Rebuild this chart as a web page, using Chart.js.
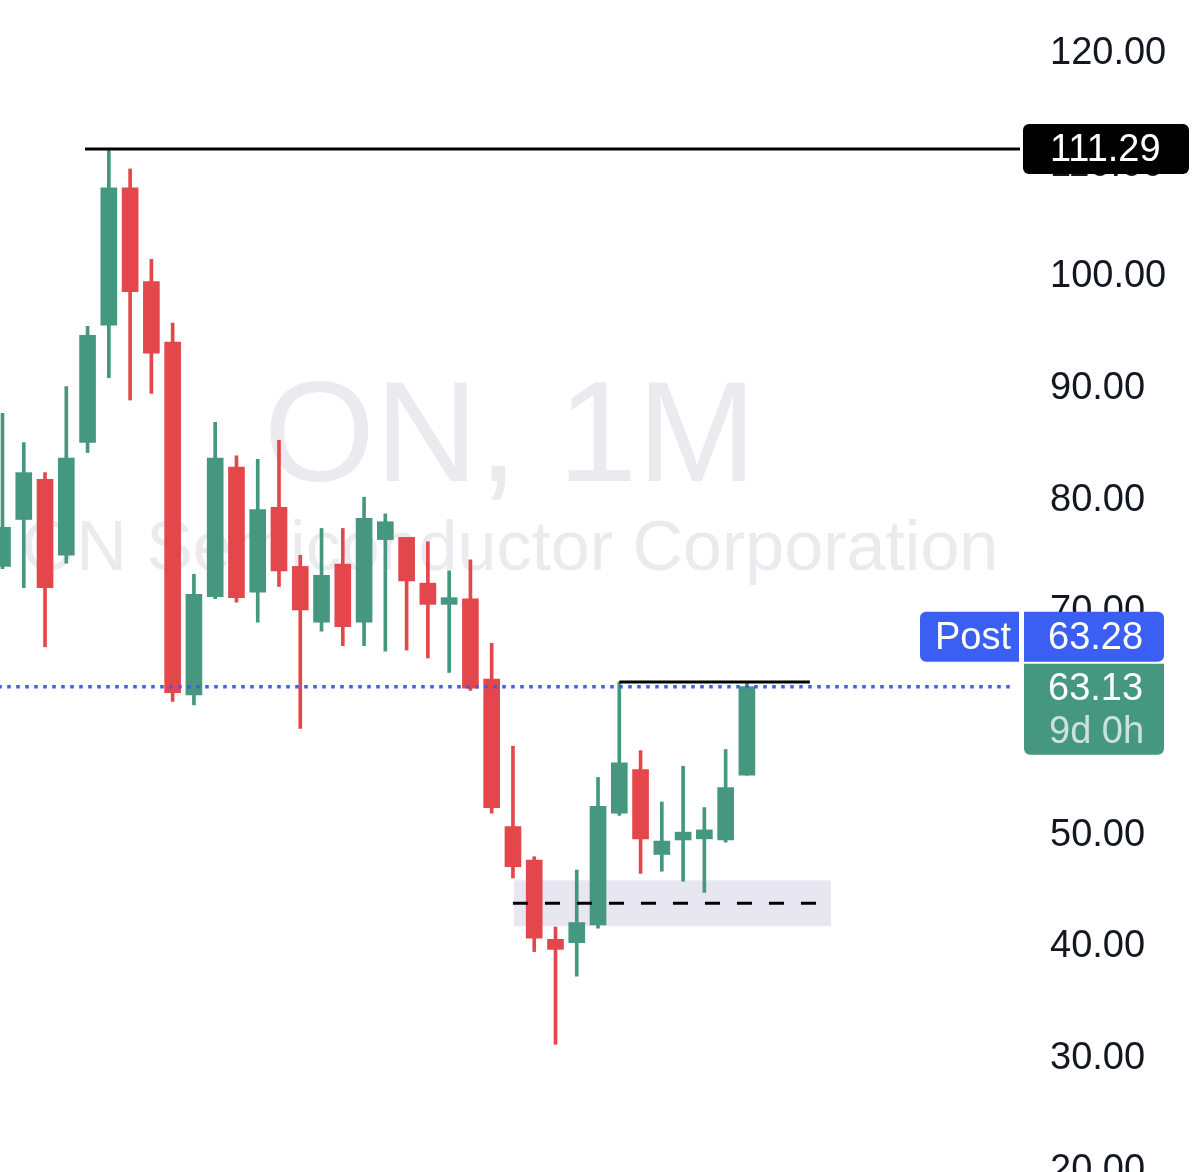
<!DOCTYPE html>
<html>
<head>
<meta charset="utf-8">
<script src="https://cdn.jsdelivr.net/npm/chart.js@4.4.1/dist/chart.umd.min.js"></script>
<style>
  html, body { margin: 0; padding: 0; background: #fff; }
  #chart { display: block; }
</style>
</head>
<body>
<canvas id="chart" width="1200" height="1172"></canvas>
<script>
// Monthly candles, ON Semiconductor
const opens  = [73.9, 78.1, 81.7, 74.9, 85.0, 95.5, 107.8, 99.4, 94.0, 62.4,
                71.2, 82.8, 71.6, 79.2, 73.9, 68.9, 74.1, 68.9, 76.3, 76.5,
                72.4, 70.5, 71.0, 63.8, 50.6, 47.6, 40.5, 40.2, 41.8, 51.8,
                55.7, 48.1, 49.4, 49.5, 49.4, 55.2];
const highs  = [87.6, 85.0, 82.3, 90.0, 95.4, 111.29, 109.5, 101.4, 95.7, 73.2,
                86.8, 83.8, 83.5, 85.2, 74.9, 77.3, 77.3, 80.1, 78.6, 76.5,
                76.1, 73.5, 74.5, 67.0, 57.8, 47.9, 41.6, 46.7, 55.0, 63.54,
                57.4, 52.8, 56.0, 52.3, 57.5, 63.6];
const lows   = [73.7, 72.0, 66.7, 74.2, 84.1, 90.8, 88.8, 89.4, 61.8, 61.5,
                71.0, 70.7, 68.9, 72.1, 59.4, 68.1, 66.8, 66.8, 66.3, 66.4,
                65.7, 64.4, 62.8, 51.8, 46.0, 39.4, 31.1, 37.2, 41.5, 51.6,
                46.4, 46.6, 45.7, 44.7, 49.2, 55.2];
const closes = [77.4, 82.3, 72.0, 83.6, 94.6, 107.8, 98.5, 93.0, 62.6, 71.4,
                83.6, 71.1, 79.0, 73.5, 70.0, 73.1, 68.5, 78.2, 77.9, 72.6,
                70.5, 71.1, 63.0, 52.3, 47.0, 40.6, 39.6, 42.0, 52.4, 56.3,
                49.5, 49.3, 50.1, 50.3, 54.1, 63.13];

const priceTicks = [20, 30, 40, 50, 60, 70, 80, 90, 100, 110, 120];

// Drawn levels: [fromIndex, toIndex, price]
const peakLine = [3.88, 47.84, 111.29];
const resistanceLine = [29, 37.96, 63.54];
const supportLine = [24, 38.6, 43.72];
const lastLine = [-0.2, 47.6, 63.13];
const zone = [24.05, 38.95, 41.67, 45.78]; // fromIndex, toIndex, low, high

const postPrice = 63.28;
const countdown = '9d 0h';
const watermark = 'ON, 1M';
const companyName = 'ON Semiconductor Corporation';

const UP = '#45987f';
const DOWN = '#e3474c';
const BLUE = '#3b5ff2';
const FONT = '"Liberation Sans", Arial, sans-serif';

const candleColors = opens.map((o, i) => closes[i] >= o ? UP : DOWN);
const bodies = opens.map((o, i) => ({ x: i, y: [o, closes[i]] }));
const wicks = opens.map((o, i) => ({ x: i, y: [lows[i], highs[i]] }));

function hLine(line) {
    return [{ x: line[0], y: line[2] }, { x: line[1], y: line[2] }];
}

function lineSet(line, color, dash, width) {
    return {
        type: 'line',
        data: hLine(line),
        borderColor: color,
        borderWidth: width || 3,
        borderDash: dash || [],
        borderCapStyle: 'butt',
        pointRadius: 0,
        order: 1
    };
}

// Watermark + highlighted zone under the candles
const backdrop = {
    id: 'backdrop',
    beforeDatasetsDraw(chart) {
        const { ctx, chartArea, scales: { x, y } } = chart;
        const cx = (chartArea.left + chartArea.right) / 2;
        ctx.save();
        ctx.fillStyle = '#ebebef';
        ctx.textAlign = 'center';
        ctx.textBaseline = 'alphabetic';
        ctx.font = `143px ${FONT}`;
        ctx.fillText(watermark, cx, 481);
        ctx.font = `70px ${FONT}`;
        ctx.fillText(companyName, cx, 570);

        const x0 = x.getPixelForValue(zone[0]);
        const x1 = x.getPixelForValue(zone[1]);
        const y0 = y.getPixelForValue(zone[3]);
        const y1 = y.getPixelForValue(zone[2]);
        ctx.fillStyle = '#e8e6f1';
        ctx.fillRect(x0, y0, x1 - x0, y1 - y0);
        ctx.restore();
    }
};

// Price tags on the axis
const priceTags = {
    id: 'priceTags',
    afterDraw(chart) {
        const { ctx, scales: { y } } = chart;
        ctx.save();
        ctx.font = `38px ${FONT}`;
        ctx.textBaseline = 'middle';
        ctx.textAlign = 'left';

        const py = y.getPixelForValue(peakLine[2]);
        ctx.fillStyle = '#000';
        ctx.beginPath();
        ctx.roundRect(1023, py - 25, 166, 50, 6);
        ctx.fill();
        ctx.fillStyle = '#fff';
        ctx.fillText(peakLine[2].toFixed(2), 1050, py + 2);

        const cy = y.getPixelForValue(lastLine[2]);
        const gTop = cy - 23;
        ctx.fillStyle = UP;
        ctx.beginPath();
        ctx.roundRect(1024, gTop, 140, 91, [0, 0, 6, 6]);
        ctx.fill();
        ctx.fillStyle = '#fff';
        ctx.fillText(lastLine[2].toFixed(2), 1048, cy + 3);
        ctx.fillStyle = 'rgba(255,255,255,0.72)';
        ctx.fillText(countdown, 1049, cy + 46);

        const pTop = gTop - 52;
        ctx.fillStyle = BLUE;
        ctx.beginPath();
        ctx.roundRect(920, pTop, 99, 50, [6, 0, 0, 6]);
        ctx.fill();
        ctx.beginPath();
        ctx.roundRect(1024, pTop, 140, 50, [0, 6, 6, 0]);
        ctx.fill();
        ctx.fillStyle = '#fff';
        ctx.fillText('Post', 935, pTop + 27);
        ctx.fillText(postPrice.toFixed(2), 1048, pTop + 27);
        ctx.restore();
    }
};

new Chart(document.getElementById('chart'), {
    type: 'bar',
    data: {
        datasets: [
            lineSet(peakLine, '#000'),
            lineSet(resistanceLine, '#000'),
            lineSet(supportLine, '#000', [15, 17]),
            lineSet(lastLine, BLUE, [3.5, 5.5], 3.5),
            {
                data: bodies,
                backgroundColor: candleColors,
                barThickness: 16,
                grouped: false,
                order: 2
            },
            {
                data: wicks,
                backgroundColor: candleColors,
                barThickness: 3,
                grouped: false,
                order: 3
            }
        ]
    },
    options: {
        responsive: false,
        devicePixelRatio: 1,
        animation: false,
        layout: { padding: 0 },
        plugins: {
            legend: { display: false },
            tooltip: { enabled: false }
        },
        scales: {
            x: {
                type: 'linear',
                display: false,
                offset: false,
                min: -0.1175,
                max: 47.84
            },
            y: {
                position: 'right',
                min: 19.66,
                max: 124.63,
                grid: { display: false, drawTicks: false },
                border: { display: false },
                afterBuildTicks: (scale) => {
                    scale.ticks = priceTicks.map(v => ({ value: v }));
                },
                afterFit: (scale) => {
                    scale.width = 180;
                    scale.paddingTop = 0;
                    scale.paddingBottom = 0;
                },
                ticks: {
                    padding: 30,
                    labelOffset: 2,
                    autoSkip: false,
                    color: '#131722',
                    font: { family: FONT, size: 38 },
                    callback: (v) => v.toFixed(2)
                }
            }
        }
    },
    plugins: [backdrop, priceTags]
});
</script>
</body>
</html>
